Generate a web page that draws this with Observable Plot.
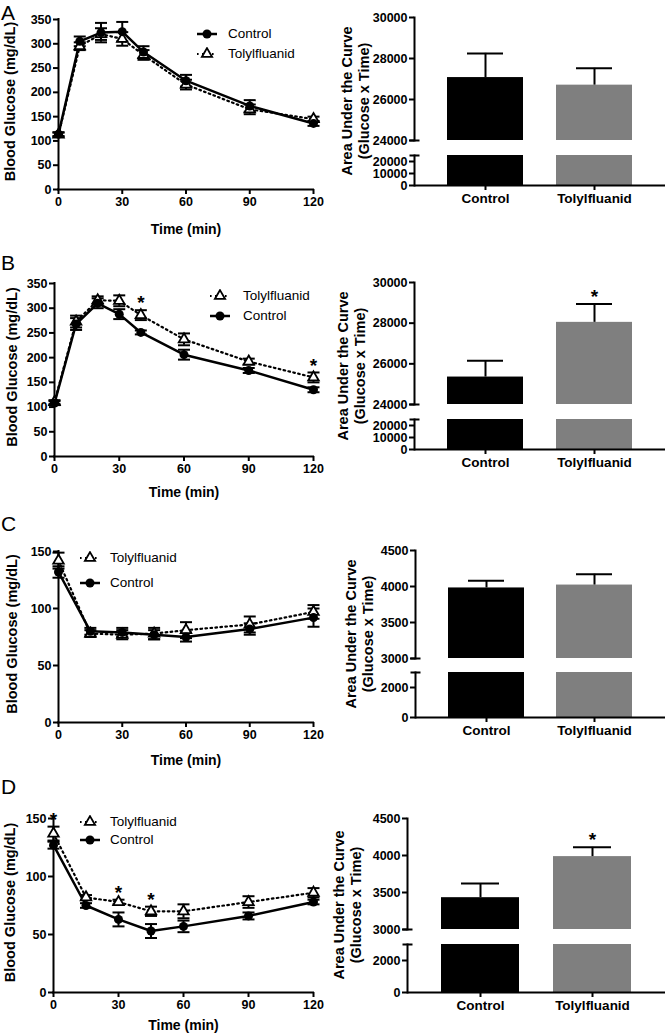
<!DOCTYPE html>
<html>
<head>
<meta charset="utf-8">
<script src="https://cdn.jsdelivr.net/npm/d3@7"></script>
<script src="https://cdn.jsdelivr.net/npm/@observablehq/plot@0.6"></script>
<style>
  html, body { margin: 0; padding: 0; background: #fff; }
  #fig { position: relative; width: 667px; height: 1036px; overflow: hidden; background: #fff;
         font-family: "Liberation Sans", Arial, Helvetica, sans-serif; color: #000; }
  .letter { position: absolute; font-size: 21px; line-height: 1; }
  .legtext { position: absolute; font-size: 13.5px; line-height: 16px; white-space: nowrap; }
  .auclab { position: absolute; font-size: 14.5px; font-weight: bold; line-height: 17px; text-align: center;
            white-space: nowrap; transform: translate(-50%, -50%) rotate(-90deg); }
</style>
</head>
<body>
<div id="fig"></div>
<script>
// ---------------- DATA ----------------
const groups = ["Control", "Tolylfluanid"];
const xTicks = [0, 30, 60, 90, 120];

// Panel A (glucose tolerance)
const timesA = [0, 10, 20, 30, 40, 60, 90, 120];
const aCtrl = [114, 305, 323, 325, 283, 224, 172, 136];
const aCtrlSem = [4, 10, 20, 20, 12, 12, 12, 5];
const aTol = [113, 295, 320, 310, 277, 216, 165, 145];
const aTolSem = [4, 8, 12, 14, 10, 10, 10, 5];
const aStars = [];
const aucA = [27070, 26700];
const aucSemA = [1180, 820];
const aucStarsA = [];

// Panel B
const timesB = [0, 10, 20, 30, 40, 60, 90, 120];
const bCtrl = [108, 268, 310, 288, 251, 206, 174, 135];
const bCtrlSem = [4, 12, 10, 10, 4, 10, 5, 5];
const bTol = [110, 273, 316, 315, 286, 237, 192, 160];
const bTolSem = [4, 12, 8, 11, 10, 12, 6, 10];
const bStars = [40, 120];
const aucB = [25350, 28040];
const aucSemB = [800, 900];
const aucStarsB = ["Tolylfluanid"];

// Panel C (insulin tolerance)
const timesC = [0, 15, 30, 45, 60, 90, 120];
const cCtrl = [132, 80, 79, 77, 75, 82, 92];
const cCtrlSem = [5, 3, 4, 4, 4, 5, 8];
const cTol = [142, 78, 77, 78, 81, 86, 97];
const cTolSem = [7, 3, 4, 5, 7, 7, 6];
const cStars = [];
const aucC = [3980, 4020];
const aucSemC = [100, 150];
const aucStarsC = [];

// Panel D
const timesD = [0, 15, 30, 45, 60, 90, 120];
const dCtrl = [127, 75, 63, 53, 57, 66, 78];
const dCtrlSem = [3, 2, 6, 6, 5, 3, 2];
const dTol = [137, 82, 78, 70, 70, 78, 86];
const dTolSem = [6, 2, 2, 4, 6, 5, 4];
const dStars = [0, 30, 45];
const aucD = [3430, 3985];
const aucSemD = [190, 125];
const aucStarsD = ["Tolylfluanid"];

// axis settings
const glucoseTicks = [0, 50, 100, 150, 200, 250, 300, 350];
const itTicks = [0, 50, 100, 150];
const aucUpperTicksAB = [24000, 26000, 28000, 30000];
const aucLowerTicksAB = [0, 10000, 20000];
const aucUpperTicksCD = [3000, 3500, 4000, 4500];
const aucLowerTicksCD = [0, 2000];
const barColors = ["#000000", "#7f7f7f"];

// ---------------- HELPERS ----------------
const FONT = "'Liberation Sans', Arial, Helvetica, sans-serif";
const fig = document.getElementById("fig");
const capSymbol = { draw(ctx, size) { const r = Math.sqrt(size / Math.PI); ctx.moveTo(-r, 0); ctx.lineTo(r, 0); } };
const baseStyle = { fontFamily: FONT, background: "transparent", overflow: "visible", color: "black" };

function place(el, left, top) {
  el.style.position = "absolute";
  el.style.left = left + "px";
  el.style.top = top + "px";
  fig.appendChild(el);
}

function letter(txt, left, top) {
  const d = document.createElement("div");
  d.className = "letter";
  d.textContent = txt;
  d.style.left = left + "px";
  d.style.top = top + "px";
  fig.appendChild(d);
}

function legend(entries, x0, x1, textLeft) {
  for (const e of entries) {
    const w = x1 - x0 + 10;
    const ns = "http://www.w3.org/2000/svg";
    const s = document.createElementNS(ns, "svg");
    s.setAttribute("width", w); s.setAttribute("height", 14);
    s.style.position = "absolute"; s.style.left = (x0 - 5) + "px"; s.style.top = (e.y - 7) + "px";
    const ln = document.createElementNS(ns, "line");
    ln.setAttribute("x1", 5); ln.setAttribute("x2", w - 5); ln.setAttribute("y1", 7); ln.setAttribute("y2", 7);
    ln.setAttribute("stroke", "black");
    const cx = w / 2;
    let mk;
    if (e.kind === "Control") {
      ln.setAttribute("stroke-width", 2.5);
      mk = document.createElementNS(ns, "circle");
      mk.setAttribute("cx", cx); mk.setAttribute("cy", 7); mk.setAttribute("r", 4.5); mk.setAttribute("fill", "black");
    } else {
      ln.setAttribute("stroke-width", 2.2);
      ln.setAttribute("stroke-dasharray", "1.6,3.4");
      mk = document.createElementNS(ns, "path");
      mk.setAttribute("d", d3.symbol(d3.symbolTriangle, Math.PI * 3.8 * 3.8)());
      mk.setAttribute("transform", `translate(${cx},7)`);
      mk.setAttribute("fill", "white"); mk.setAttribute("stroke", "black"); mk.setAttribute("stroke-width", 1.8);
    }
    s.appendChild(ln); s.appendChild(mk);
    fig.appendChild(s);
    const t = document.createElement("div");
    t.className = "legtext";
    t.textContent = e.kind;
    t.style.left = textLeft + "px";
    t.style.top = (e.y - 8) + "px";
    fig.appendChild(t);
  }
}

function lineChart(p) {
  const {top, height, axisLeft, frameTop, frameBottom, yDomain, yTicks, times, ctrl, ctrlSem, tol, tolSem, stars, xTitleDy, yTitleDx} = p;
  const mk = (g, m, s) => times.map((t, i) => ({t, group: g, mean: m[i], sem: s[i]}));
  const c = mk("Control", ctrl, ctrlSem);
  const tr = mk("Tolylfluanid", tol, tolSem);
  const all = tr.concat(c);
  const starRows = tr.filter(d => stars.includes(d.t));
  const svg = Plot.plot({
    width: 330, height,
    marginLeft: axisLeft, marginRight: 17,
    marginTop: frameTop - top, marginBottom: top + height - frameBottom,
    style: baseStyle,
    x: {domain: [0, 120]},
    y: {domain: yDomain},
    marks: [
      Plot.axisY({ticks: yTicks, tickSize: 5, tickPadding: 2, fontSize: 12.5, fontWeight: "bold", strokeWidth: 2, label: null}),
      Plot.axisX({ticks: xTicks, tickSize: 5, tickPadding: 3, fontSize: 12.5, fontWeight: "bold", strokeWidth: 2, label: null}),
      Plot.ruleX([0], {y1: yDomain[0], y2: yDomain[1], strokeWidth: 2, strokeLinecap: "square"}),
      Plot.ruleY([yDomain[0]], {x1: 0, x2: 120, strokeWidth: 2, strokeLinecap: "square"}),
      Plot.text(["Time (min)"], {text: d => d, frameAnchor: "bottom", lineAnchor: "middle", textAnchor: "middle", dy: xTitleDy, fontSize: 14, fontWeight: "bold"}),
      Plot.text(["Blood Glucose (mg/dL)"], {text: d => d, frameAnchor: "left", textAnchor: "middle", lineAnchor: "middle", rotate: -90, dx: yTitleDx, dy: -3, fontSize: 14.5, fontWeight: "bold"}),
      Plot.line(tr, {x: "t", y: "mean", stroke: "black", strokeWidth: 2.2, strokeDasharray: "1.6,3.4"}),
      Plot.line(c, {x: "t", y: "mean", stroke: "black", strokeWidth: 2.5}),
      Plot.ruleX(all, {x: "t", y1: d => d.mean - d.sem, y2: d => d.mean + d.sem, stroke: "black", strokeWidth: 2}),
      Plot.dot(all, {x: "t", y: d => d.mean + d.sem, symbol: capSymbol, r: 6, fill: "none", stroke: "black", strokeWidth: 2}),
      Plot.dot(all, {x: "t", y: d => d.mean - d.sem, symbol: capSymbol, r: 6, fill: "none", stroke: "black", strokeWidth: 2}),
      Plot.dot(tr, {x: "t", y: "mean", symbol: "triangle", r: 3.9, fill: "white", stroke: "black", strokeWidth: 1.8}),
      Plot.dot(c, {x: "t", y: "mean", symbol: "circle", r: 4.5, fill: "black"}),
      Plot.text(starRows, {x: "t", y: d => d.mean + d.sem, text: () => "*", dy: -7, fontSize: 19, fontWeight: "bold"})
    ]
  });
  place(svg, 0, top);
}

function barChart(p) {
  const {top, bottom, axisLeft, upperTop, upperBottom, lowerTop, lowerBottom, upperDomain, upperTicks,
         lowerDomain, lowerTicks, means, sems, stars, labelX} = p;
  const rows = groups.map((g, i) => ({group: g, mean: means[i], sem: sems[i]}));
  const starRows = rows.filter(d => stars.includes(d.group));
  const split = Math.round((upperBottom + lowerTop) / 2);
  const common = {width: 337, marginLeft: axisLeft - 330, marginRight: 2, style: baseStyle,
                  color: {domain: groups, range: barColors}};
  const upper = Plot.plot({
    ...common,
    height: split - top, marginTop: upperTop - top, marginBottom: split - upperBottom,
    x: {domain: groups, padding: 0.3, axis: null},
    y: {domain: upperDomain},
    marks: [
      Plot.barY(rows, {x: "group", y1: upperDomain[0], y2: "mean", fill: "group"}),
      Plot.ruleX(rows, {x: "group", y1: "mean", y2: d => d.mean + d.sem, stroke: "black", strokeWidth: 2}),
      Plot.tickY(rows, {x: "group", y: d => d.mean + d.sem, stroke: "black", strokeWidth: 2, inset: 20}),
      Plot.axisY({ticks: upperTicks, tickFormat: "d", tickSize: 5, tickPadding: 2, fontSize: 12.5, fontWeight: "bold", strokeWidth: 2, label: null}),
      Plot.frame({anchor: "left", strokeWidth: 2}),
      Plot.dot([upperDomain[0]], {y: d => d, frameAnchor: "left", symbol: capSymbol, r: 5, fill: "none", stroke: "black", strokeWidth: 2}),
      Plot.text(starRows, {x: "group", y: d => d.mean + d.sem, text: () => "*", dy: -7, fontSize: 19, fontWeight: "bold"})
    ]
  });
  const lower = Plot.plot({
    ...common,
    height: bottom - split, marginTop: lowerTop - split, marginBottom: bottom - lowerBottom,
    x: {domain: groups, padding: 0.3},
    y: {domain: lowerDomain},
    marks: [
      Plot.barY(rows, {x: "group", y1: lowerDomain[0], y2: d => Math.min(d.mean, lowerDomain[1]), fill: "group"}),
      Plot.axisY({ticks: lowerTicks, tickFormat: "d", tickSize: 5, tickPadding: 2, fontSize: 12.5, fontWeight: "bold", strokeWidth: 2, label: null}),
      Plot.axisX({tickSize: 5, tickPadding: 3, fontSize: 13.5, fontWeight: "bold", strokeWidth: 2, label: null}),
      Plot.frame({anchor: "left", strokeWidth: 2}),
      Plot.ruleY([lowerDomain[0]], {strokeWidth: 2}),
      Plot.dot([lowerDomain[1]], {y: d => d, frameAnchor: "left", symbol: capSymbol, r: 5, fill: "none", stroke: "black", strokeWidth: 2})
    ]
  });
  place(upper, 330, top);
  place(lower, 330, split);
  const lab = document.createElement("div");
  lab.className = "auclab";
  lab.innerHTML = "Area Under the Curve<br>(Glucose x Time)";
  lab.style.left = labelX + "px";
  lab.style.top = ((upperTop + lowerBottom) / 2) + "px";
  fig.appendChild(lab);
}

// ---------------- PANELS ----------------
// A
lineChart({top: 0, height: 250, axisLeft: 58, frameTop: 19, frameBottom: 189, yDomain: [0, 350], yTicks: glucoseTicks,
  times: timesA, ctrl: aCtrl, ctrlSem: aCtrlSem, tol: aTol, tolSem: aTolSem, stars: aStars, xTitleDy: 40, yTitleDx: -48});
barChart({top: 0, bottom: 250, axisLeft: 414, upperTop: 17, upperBottom: 140, lowerTop: 155, lowerBottom: 185,
  upperDomain: [24000, 30000], upperTicks: aucUpperTicksAB, lowerDomain: [0, 25000], lowerTicks: aucLowerTicksAB,
  means: aucA, sems: aucSemA, stars: aucStarsA, labelX: 355.5});
legend([{kind: "Control", y: 34}, {kind: "Tolylfluanid", y: 54}], 197, 217, 228);
letter("A", 1, 2);

// B
lineChart({top: 250, height: 260, axisLeft: 54, frameTop: 283, frameBottom: 456, yDomain: [0, 350], yTicks: glucoseTicks,
  times: timesB, ctrl: bCtrl, ctrlSem: bCtrlSem, tol: bTol, tolSem: bTolSem, stars: bStars, xTitleDy: 36, yTitleDx: -42});
barChart({top: 250, bottom: 510, axisLeft: 414, upperTop: 282, upperBottom: 404, lowerTop: 419, lowerBottom: 449,
  upperDomain: [24000, 30000], upperTicks: aucUpperTicksAB, lowerDomain: [0, 25000], lowerTicks: aucLowerTicksAB,
  means: aucB, sems: aucSemB, stars: aucStarsB, labelX: 352});
legend([{kind: "Tolylfluanid", y: 296}, {kind: "Control", y: 316}], 210, 230, 243);
letter("B", 1, 252);

// C
lineChart({top: 510, height: 260, axisLeft: 58, frameTop: 551, frameBottom: 722, yDomain: [0, 150], yTicks: itTicks,
  times: timesC, ctrl: cCtrl, ctrlSem: cCtrlSem, tol: cTol, tolSem: cTolSem, stars: cStars, xTitleDy: 38, yTitleDx: -46});
barChart({top: 510, bottom: 770, axisLeft: 415, upperTop: 550, upperBottom: 658, lowerTop: 672, lowerBottom: 717,
  upperDomain: [3000, 4500], upperTicks: aucUpperTicksCD, lowerDomain: [0, 3000], lowerTicks: aucLowerTicksCD,
  means: aucC, sems: aucSemC, stars: aucStarsC, labelX: 359.5});
legend([{kind: "Tolylfluanid", y: 558}, {kind: "Control", y: 583}], 80, 100, 110);
letter("C", 1, 513);

// D
lineChart({top: 770, height: 266, axisLeft: 53, frameTop: 818, frameBottom: 992, yDomain: [0, 150], yTicks: itTicks,
  times: timesD, ctrl: dCtrl, ctrlSem: dCtrlSem, tol: dTol, tolSem: dTolSem, stars: dStars, xTitleDy: 33, yTitleDx: -43});
barChart({top: 770, bottom: 1036, axisLeft: 407, upperTop: 818, upperBottom: 929, lowerTop: 944, lowerBottom: 992,
  upperDomain: [3000, 4500], upperTicks: aucUpperTicksCD, lowerDomain: [0, 3000], lowerTicks: aucLowerTicksCD,
  means: aucD, sems: aucSemD, stars: aucStarsD, labelX: 347.5});
legend([{kind: "Tolylfluanid", y: 822}, {kind: "Control", y: 840}], 80, 100, 110);
letter("D", 1, 776);
</script>
</body>
</html>
